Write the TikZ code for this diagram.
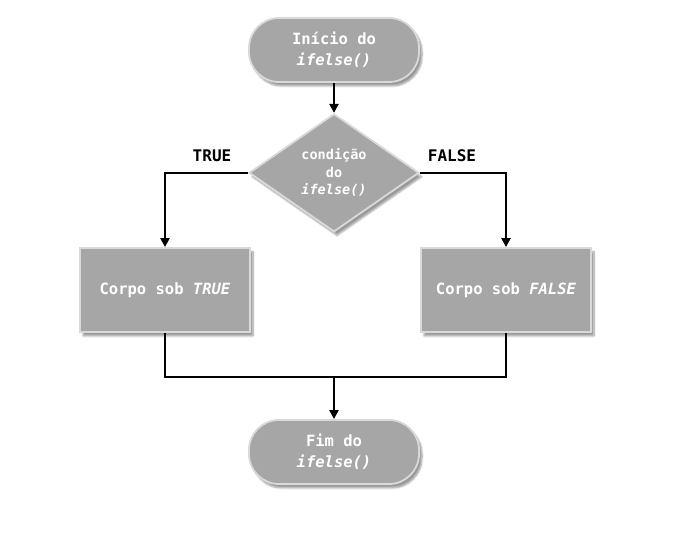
\documentclass[tikz,border=0pt]{standalone}
\usepackage{fontspec}
\setmonofont{DejaVu Sans Mono}
\usepackage{xcolor}
\usepackage{tikz}
\usetikzlibrary{positioning,shapes.geometric,shadows.blur,arrows.meta}

\begin{document}
\begin{tikzpicture}[x=1pt,y=1pt,
base/.style={fill=black!35,draw=black!15,line width=1.8pt,text=white,align=center,
font=\ttfamily\bfseries\fontsize{15.5}{21}\selectfont,
blur shadow={shadow xshift=3pt,shadow yshift=-4pt,shadow blur steps=8}},
terminal/.style={base,rectangle,rounded corners=30pt,minimum width=170pt,minimum height=64pt},
process/.style={base,rectangle,minimum width=170pt,minimum height=84pt},
decision/.style={base,diamond,inner sep=0pt,minimum width=170pt,minimum height=118pt,
font=\ttfamily\bfseries\fontsize{13.5}{17.5}\selectfont},
label/.style={font=\ttfamily\bfseries\fontsize{16}{18}\selectfont},
seta/.style={-{Triangle[length=9pt,width=9pt]},line width=2.3pt},
linha/.style={line width=2.3pt}]
\useasboundingbox (0,0) rectangle (680,535);
\node[terminal] (inicio) at (334,485) {Início do\\\textit{ifelse()}};
\node[decision] (condicao) [below=30pt of inicio] {condição\\do\\\textit{ifelse()}};
\node[process] (corpoT) at (165,245) {Corpo sob \textit{TRUE}};
\node[process] (corpoF) at (506,245) {Corpo sob \textit{FALSE}};
\node[terminal] (fim) at (334,83) {Fim do\\\textit{ifelse()}};
\coordinate (juncao) at (334,158);
\node[label] (verdadeiro) at (212,379) {TRUE};
\node[label] (falso) at (452,379) {FALSE};
\draw[seta] (inicio) -- (condicao);
\draw[seta] (condicao.west) -| (corpoT.north);
\draw[seta] (condicao.east) -| (corpoF.north);
\draw[linha] (corpoT.south) |- (juncao) -| (corpoF.south);
\draw[seta] (juncao) -- (fim);
\end{tikzpicture}
\end{document}
